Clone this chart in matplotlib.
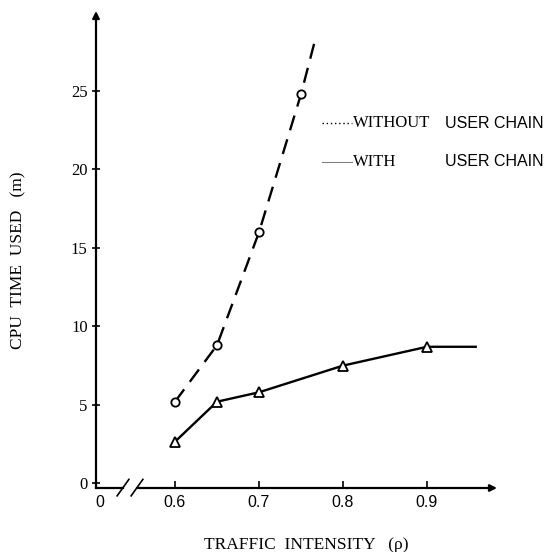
"""CPU time used vs traffic intensity, with and without user chain."""

import matplotlib
matplotlib.use("Agg")
import matplotlib.pyplot as plt
from matplotlib.lines import Line2D

# data
rho_without = [0.60, 0.65, 0.70, 0.75, 0.767]
cpu_without = [5.2, 8.8, 16.0, 24.8, 28.3]
rho_without_pts = [0.60, 0.65, 0.70, 0.75]
cpu_without_pts = [5.2, 8.8, 16.0, 24.8]

rho_with = [0.60, 0.65, 0.70, 0.80, 0.90, 0.958]
cpu_with = [2.65, 5.2, 5.8, 7.5, 8.7, 8.7]
rho_with_pts = [0.60, 0.65, 0.70, 0.80, 0.90]
cpu_with_pts = [2.65, 5.2, 5.8, 7.5, 8.7]

x_ticks = [0.6, 0.7, 0.8, 0.9]
x_tick_labels = ["0.6", "0.7", "0.8", "0.9"]
y_ticks = [0, 5, 10, 15, 20, 25]

SERIF = ["Liberation Serif", "DejaVu Serif"]
SANS = ["Liberation Sans", "DejaVu Sans"]
plt.rcParams["font.family"] = SERIF

W, H = 556, 552
fig = plt.figure(figsize=(W / 100, H / 100), dpi=100)

# axes box in pixels (left, top, right, bottom)
px_l, px_t, px_r, px_b = 96, 11, 505, 488
ax = fig.add_axes([px_l / W, 1 - px_b / H, (px_r - px_l) / W, (px_b - px_t) / H])

x_min = 0.6 - (175 - px_l) / 840
x_max = 0.6 + (px_r - 175) / 840
ax.set_xlim(x_min, x_max)
ax.set_ylim(-0.3, 30.1)

ax.plot(rho_without, cpu_without, color="black", lw=1.7, dashes=(6.5, 4))
ax.plot(rho_without_pts, cpu_without_pts, "o", ms=6, mfc="white", mec="black", mew=1.3)
ax.plot(rho_with, cpu_with, color="black", lw=1.7)
ax.plot(rho_with_pts, cpu_with_pts, "^", ms=6.5, mfc="white", mec="black", mew=1.3)

for s in ax.spines.values():
    s.set_visible(False)

# axes drawn by hand: arrows and broken x axis
ax.annotate("", xy=(x_min, 30.1), xytext=(x_min, -0.3),
            arrowprops=dict(arrowstyle="-|>", color="black", lw=1.6,
                            mutation_scale=10, shrinkA=0, shrinkB=0))
x_arrow = 0.6 + (497 - 175) / 840
brk1 = x_min + (123 - px_l) / 840
brk2 = x_min + (137 - px_l) / 840
ax.plot([x_min, brk1], [-0.3, -0.3], color="black", lw=1.6, clip_on=False)
ax.annotate("", xy=(x_arrow, -0.3), xytext=(brk2, -0.3),
            arrowprops=dict(arrowstyle="-|>", color="black", lw=1.6,
                            mutation_scale=10, shrinkA=0, shrinkB=0))
for b in (brk1, brk2):
    ax.plot([b - 0.007, b + 0.007], [-0.8, 0.25], color="black", lw=1.2, clip_on=False)

ax.set_xticks(x_ticks)
ax.set_xticklabels(x_tick_labels, family=SANS)
ax.set_yticks(y_ticks)
ax.tick_params(axis="x", direction="in", length=5, width=1.2, labelsize=11.5, pad=5)
ax.tick_params(axis="y", direction="inout", length=6, width=1.2, labelsize=12, pad=3)
ax.text(x_min + 0.005, -1.2, "0", ha="center", va="center", fontsize=11.5, family=SANS)

fig.text(306 / W, 1 - 545 / H, "TRAFFIC  INTENSITY   (ρ)", ha="center", va="center",
         fontsize=12.5)
fig.text(18 / W, 1 - 260 / H, "CPU  TIME  USED   (m)", ha="center", va="center",
         rotation=90, fontsize=12.5)

# hand-made legend
fig.add_artist(Line2D([322 / W, 352 / W], [1 - 123 / H] * 2, color="black", lw=1.0,
                      ls=(0, (1, 2))))
fig.add_artist(Line2D([322 / W, 352 / W], [1 - 162 / H] * 2, color="gray", lw=0.8))
for y, word in ((123, "WITHOUT"), (162, "WITH")):
    fig.text(353 / W, 1 - y / H, word, ha="left", va="center", fontsize=12)
    fig.text(445 / W, 1 - y / H, "USER CHAIN", ha="left", va="center", fontsize=11.5,
             family=SANS)

fig.savefig("out.png", dpi=100)
